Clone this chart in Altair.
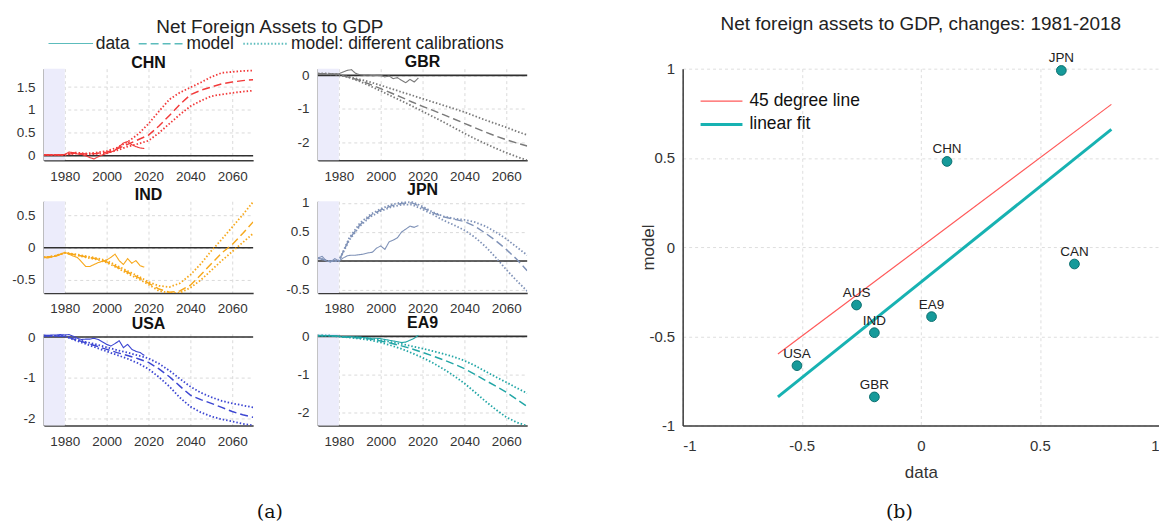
import altair as alt
import pandas as pd

# ---------------- data: left panels ----------------
years_model = list(range(1970, 2071, 5))
years_data = list(range(1970, 2019, 2))
shade_period = [1970, 1980]
x_ticks = [1980, 2000, 2020, 2040, 2060]
types = ["data", "model", "model: different calibrations"]

chn_data = [0.02, 0.02, 0.02, 0.02, 0.02, 0.03, 0.08, 0.07, 0.04, 0.03, 0.0, -0.04, -0.07,
            -0.02, 0.02, 0.05, 0.08, 0.12, 0.2, 0.28, 0.31, 0.24, 0.2, 0.17, 0.16]
chn_model = [0.02, 0.02, 0.02, 0.06, 0.04, 0.05, 0.08, 0.15, 0.25, 0.35, 0.45, 0.65, 0.88,
             1.12, 1.33, 1.43, 1.5, 1.57, 1.61, 1.64, 1.66]
chn_hi = [0.02, 0.02, 0.02, 0.07, 0.05, 0.07, 0.1, 0.18, 0.3, 0.47, 0.7, 0.97, 1.23,
          1.38, 1.49, 1.6, 1.72, 1.81, 1.83, 1.85, 1.86]
chn_lo = [0.02, 0.02, 0.02, 0.05, 0.03, 0.04, 0.06, 0.12, 0.2, 0.26, 0.33, 0.5, 0.7,
          0.9, 1.08, 1.2, 1.3, 1.34, 1.37, 1.4, 1.42]

gbr_data = [0.05, 0.03, 0.04, 0.02, 0.04, 0.05, 0.1, 0.15, 0.17, 0.06, 0.02, 0.0, 0.01,
            -0.01, 0.0, 0.0, -0.05, -0.02, -0.1, -0.07, -0.15, -0.22, -0.12, -0.2, -0.08]
gbr_model = [0.05, 0.05, 0.02, -0.06, -0.15, -0.27, -0.4, -0.53, -0.66, -0.8, -0.93, -1.05,
             -1.18, -1.31, -1.44, -1.57, -1.7, -1.82, -1.93, -2.03, -2.12]
gbr_hi = [0.05, 0.05, 0.02, -0.05, -0.12, -0.2, -0.3, -0.4, -0.5, -0.6, -0.7, -0.8,
          -0.9, -1.0, -1.1, -1.22, -1.34, -1.45, -1.56, -1.68, -1.79]
gbr_lo = [0.05, 0.05, 0.02, -0.07, -0.18, -0.32, -0.47, -0.62, -0.77, -0.92, -1.08, -1.24,
          -1.4, -1.57, -1.74, -1.9, -2.05, -2.19, -2.32, -2.44, -2.55]

ind_data = [-0.15, -0.16, -0.14, -0.13, -0.1, -0.07, -0.1, -0.13, -0.15, -0.22, -0.29, -0.29,
            -0.26, -0.23, -0.21, -0.19, -0.15, -0.1, -0.2, -0.26, -0.17, -0.24, -0.2, -0.28, -0.3]
ind_model = [-0.15, -0.13, -0.08, -0.11, -0.14, -0.17, -0.22, -0.3, -0.38, -0.46, -0.55,
             -0.64, -0.69, -0.67, -0.58, -0.42, -0.25, -0.08, 0.05, 0.22, 0.4]
ind_hi = [-0.15, -0.13, -0.08, -0.1, -0.13, -0.16, -0.2, -0.28, -0.36, -0.44, -0.53,
          -0.59, -0.61, -0.55, -0.42, -0.25, -0.05, 0.13, 0.32, 0.51, 0.71]
ind_lo = [-0.15, -0.13, -0.08, -0.11, -0.15, -0.18, -0.23, -0.31, -0.4, -0.48, -0.57,
          -0.67, -0.7, -0.7, -0.62, -0.5, -0.35, -0.2, -0.06, 0.08, 0.22]

jpn_data = [0.05, 0.08, 0.0, -0.02, 0.04, 0.0, 0.05, 0.09, 0.1, 0.1, 0.11, 0.12, 0.14,
            0.15, 0.22, 0.26, 0.2, 0.33, 0.36, 0.4, 0.5, 0.55, 0.6, 0.58, 0.61]
jpn_model = [0.05, 0.0, 0.0, 0.38, 0.62, 0.78, 0.88, 0.95, 0.99, 1.0, 0.92, 0.83, 0.76,
             0.72, 0.68, 0.6, 0.48, 0.35, 0.2, 0.03, -0.17]
jpn_hi = [0.05, 0.0, 0.0, 0.4, 0.65, 0.8, 0.9, 0.97, 1.01, 1.02, 0.94, 0.84, 0.77,
          0.73, 0.71, 0.67, 0.6, 0.5, 0.38, 0.24, 0.1]
jpn_lo = [0.05, 0.0, 0.0, 0.36, 0.6, 0.76, 0.86, 0.93, 0.97, 0.97, 0.89, 0.8, 0.7,
          0.62, 0.53, 0.41, 0.25, 0.06, -0.15, -0.34, -0.52]

usa_data = [0.05, 0.04, 0.05, 0.05, 0.06, 0.05, 0.06, 0.02, -0.03, -0.06, -0.05, -0.05,
            -0.03, -0.06, -0.12, -0.18, -0.22, -0.16, -0.09, -0.26, -0.18, -0.3, -0.35, -0.38, -0.45]
usa_model = [0.03, 0.03, 0.02, -0.06, -0.14, -0.22, -0.3, -0.38, -0.45, -0.53, -0.62,
             -0.78, -0.97, -1.2, -1.42, -1.53, -1.62, -1.72, -1.82, -1.9, -1.96]
usa_hi = [0.03, 0.03, 0.02, -0.05, -0.12, -0.18, -0.25, -0.32, -0.38, -0.45, -0.52,
          -0.65, -0.82, -1.02, -1.21, -1.36, -1.47, -1.56, -1.62, -1.67, -1.72]
usa_lo = [0.03, 0.03, 0.02, -0.08, -0.17, -0.26, -0.35, -0.44, -0.53, -0.64, -0.78,
          -0.98, -1.21, -1.48, -1.7, -1.84, -1.94, -2.01, -2.06, -2.12, -2.16]

ea9_data = [0.02, 0.03, 0.02, 0.02, 0.01, 0.0, -0.02, -0.02, -0.01, -0.02, -0.02, -0.03,
            -0.04, -0.05, -0.05, -0.06, -0.08, -0.1, -0.12, -0.14, -0.16, -0.15, -0.1, -0.05, 0.03]
ea9_model = [0.02, 0.02, 0.0, -0.02, -0.04, -0.07, -0.12, -0.18, -0.25, -0.33, -0.42,
             -0.52, -0.62, -0.73, -0.85, -1.0, -1.16, -1.31, -1.47, -1.66, -1.85]
ea9_hi = [0.02, 0.02, 0.0, -0.02, -0.03, -0.06, -0.1, -0.15, -0.2, -0.26, -0.32,
          -0.39, -0.46, -0.54, -0.64, -0.77, -0.92, -1.07, -1.21, -1.36, -1.5]
ea9_lo = [0.02, 0.02, 0.0, -0.03, -0.06, -0.1, -0.16, -0.24, -0.33, -0.44, -0.56,
          -0.7, -0.86, -1.04, -1.24, -1.47, -1.71, -1.93, -2.13, -2.27, -2.36]

# ---------------- data: scatter ----------------
countries = ["JPN", "CHN", "CAN", "AUS", "EA9", "IND", "USA", "GBR"]
data_change = [0.59, 0.11, 0.645, -0.27, 0.045, -0.195, -0.52, -0.195]
model_change = [0.99, 0.48, -0.095, -0.325, -0.39, -0.48, -0.665, -0.84]
line_x = [-0.6, 0.8]
deg45_y = [-0.6, 0.8]
fit_y = [-0.84, 0.66]
line_names = ["45 degree line", "linear fit"]

FONT = "Liberation Sans"
PW, PH = 210, 92
LEGEND_TEAL = "#5cbcbc"


def panel(name, color, dvals, mid, hi, lo, ydom, yticks, legend=None):
    rows = []
    for yr, v in zip(years_model, hi):
        rows.append({"year": yr, "value": v, "type": types[2], "series": "hi"})
    for yr, v in zip(years_model, lo):
        rows.append({"year": yr, "value": v, "type": types[2], "series": "lo"})
    for yr, v in zip(years_model, mid):
        rows.append({"year": yr, "value": v, "type": types[1], "series": "model"})
    for yr, v in zip(years_data, dvals):
        rows.append({"year": yr, "value": v, "type": types[0], "series": "data"})
    df = pd.DataFrame(rows)
    xsc = alt.Scale(domain=[1970, 2070], nice=False, zero=False)
    ysc = alt.Scale(domain=ydom, nice=False, zero=False)
    common = dict(grid=True, gridColor="#dadada", gridDash=[3, 3], ticks=False,
                  domainColor="#3a3a3a", domainWidth=1.5, labelColor="#333333",
                  labelFont=FONT, labelFontSize=13.5, title=None)
    xax = alt.Axis(values=x_ticks, format="d", labelPadding=9, **common)
    yax = alt.Axis(values=yticks, labelExpr="datum.value + ''", labelPadding=9, **common)

    shade = alt.Chart(pd.DataFrame({"start": [shade_period[0]], "end": [shade_period[1]]})).mark_rect(
        color="#ececfb").encode(
        x=alt.X("start:Q", scale=xsc, axis=xax), x2="end:Q",
        y=alt.value(0), y2=alt.value(PH))
    zero = alt.Chart(pd.DataFrame({"v": [0]})).mark_rule(color="#303030", strokeWidth=1.6).encode(
        y=alt.Y("v:Q", scale=ysc, axis=yax))
    lines = alt.Chart(df).mark_line(clip=True, color=color).encode(
        x=alt.X("year:Q", scale=xsc, axis=xax),
        y=alt.Y("value:Q", scale=ysc, axis=yax),
        strokeDash=alt.StrokeDash("type:N", scale=alt.Scale(domain=types, range=[[1, 0], [8, 4], [1.5, 2]]),
                                  legend=legend),
        strokeWidth=alt.StrokeWidth("type:N", scale=alt.Scale(domain=types, range=[1.1, 1.8, 1.5]),
                                    legend=None),
        detail="series:N",
    )
    return alt.layer(shade, zero, lines).properties(
        width=PW, height=PH,
        title=alt.TitleParams(name, font=FONT, fontSize=16, fontWeight="bold", color="#111111", offset=-2))


def make_left_legend(with_encode):
    kw = dict(orient="none", legendX=4, legendY=-48.5, direction="horizontal", title=None,
              symbolType="M-1,0H1", symbolStrokeColor=LEGEND_TEAL, symbolStrokeWidth=1.6, symbolOpacity=1,
              symbolSize=2000, labelFont=FONT, labelFontSize=17.5, labelColor="#222222",
              columnPadding=5, labelOffset=2, padding=0, labelLimit=400)
    if with_encode:
        kw["encode"] = {"symbols": {"update": {"stroke": {"value": LEGEND_TEAL},
                                               "fill": {"value": "transparent"}}}}
    return alt.Legend(**kw)


def build(left_legend):
    chn = panel("CHN", "#f23a3a", chn_data, chn_model, chn_hi, chn_lo, [-0.1, 1.9], [0, 0.5, 1, 1.5], left_legend)
    gbr = panel("GBR", "#7a7a7a", gbr_data, gbr_model, gbr_hi, gbr_lo, [-2.55, 0.2], [-2, -1, 0])
    ind = panel("IND", "#f7a81b", ind_data, ind_model, ind_hi, ind_lo, [-0.7, 0.72], [-0.5, 0, 0.5])
    jpn = panel("JPN", "#8093b8", jpn_data, jpn_model, jpn_hi, jpn_lo, [-0.55, 1.03], [-0.5, 0, 0.5, 1])
    usa = panel("USA", "#3c46d2", usa_data, usa_model, usa_hi, usa_lo, [-2.16, 0.08], [-2, -1, 0])
    ea9 = panel("EA9", "#22a6a6", ea9_data, ea9_model, ea9_hi, ea9_lo, [-2.35, 0.07], [-2, -1, 0])

    left_block = alt.concat(
        chn, gbr, ind, jpn, usa, ea9, columns=2, spacing={"row": 41, "column": 65}, bounds="flush",
        title=alt.TitleParams("Net Foreign Assets to GDP", font=FONT, fontSize=19, fontWeight="normal",
                              color="#222222", offset=-17, anchor="middle"),
    )

    left = alt.vconcat(left_block, title=alt.TitleParams(
        "(a)", orient="bottom", font="DejaVu Serif", fontSize=19, fontWeight="normal", color="#111111",
        offset=55, anchor="middle")).resolve_scale(strokeDash="independent", strokeWidth="independent")

    # ---------------- scatter ----------------
    pts = pd.DataFrame({"country": countries, "data": data_change, "model": model_change})
    fit = pd.DataFrame({"x": line_x + line_x, "y": deg45_y + fit_y,
                        "line": [line_names[0]] * 2 + [line_names[1]] * 2})
    sx = alt.Scale(domain=[-1, 1], nice=False, zero=False)
    sy = alt.Scale(domain=[-1, 1], nice=False, zero=False)
    scommon = dict(grid=True, gridColor="#dedede", gridDash=[3, 3], ticks=False, domainColor="#3a3a3a",
                   domainWidth=1.5, labelColor="#333333", labelFont=FONT, labelFontSize=15,
                   titleFont=FONT, titleFontSize=17, titleFontWeight="normal", titleColor="#333333",
                   values=[-1, -0.5, 0, 0.5, 1], labelExpr="datum.value + ''")
    sxax = alt.Axis(title="data", labelPadding=13, titlePadding=11, **scommon)
    syax = alt.Axis(title="model", labelPadding=8, titleX=-25, **scommon)

    leg2 = alt.Legend(orient="none", legendX=27, legendY=21, title=None, symbolType="M-2,0H2",
                      symbolSize=441, labelFont=FONT, labelFontSize=17.5, labelColor="#111111",
                      rowPadding=3, labelOffset=16, padding=0)
    lines2 = alt.Chart(fit).mark_line().encode(
        x=alt.X("x:Q", scale=sx, axis=sxax),
        y=alt.Y("y:Q", scale=sy, axis=syax),
        color=alt.Color("line:N", scale=alt.Scale(domain=line_names, range=["#ff5a5a", "#17b2b2"]), legend=leg2),
        strokeWidth=alt.StrokeWidth("line:N", scale=alt.Scale(domain=line_names, range=[1.2, 3]), legend=leg2),
    )
    points = alt.Chart(pts).mark_circle(size=95, color="#169a9a", stroke="#0b6f6f", strokeWidth=1,
                                        opacity=1).encode(x=alt.X("data:Q", scale=sx), y=alt.Y("model:Q", scale=sy))
    labels = alt.Chart(pts).mark_text(dy=-12, font=FONT, fontSize=13.5, color="#222222").encode(
        x=alt.X("data:Q", scale=sx), y=alt.Y("model:Q", scale=sy), text="country:N")

    scatter = alt.layer(lines2, points, labels).properties(
        width=478, height=358,
        title=alt.TitleParams("Net foreign assets to GDP, changes: 1981-2018", font=FONT, fontSize=19,
                              fontWeight="normal", color="#222222", offset=18, anchor="middle"))

    right = alt.vconcat(scatter, title=alt.TitleParams(
        "(b)", orient="bottom", font="DejaVu Serif", fontSize=19, fontWeight="normal", color="#111111",
        offset=23, anchor="middle")).resolve_scale(color="independent", strokeWidth="independent")

    return alt.hconcat(left, right, spacing=112).resolve_scale(
        color="independent", strokeWidth="independent", strokeDash="independent"
    ).configure_view(stroke=None).properties(
        padding={"left": 3, "top": 5, "right": 0, "bottom": 0}, background="white")


try:
    chart = build(make_left_legend(True))
    chart.to_dict()
except Exception:
    chart = build(make_left_legend(False))

chart.save("out.html", embed_options={"renderer": "svg", "actions": False})
